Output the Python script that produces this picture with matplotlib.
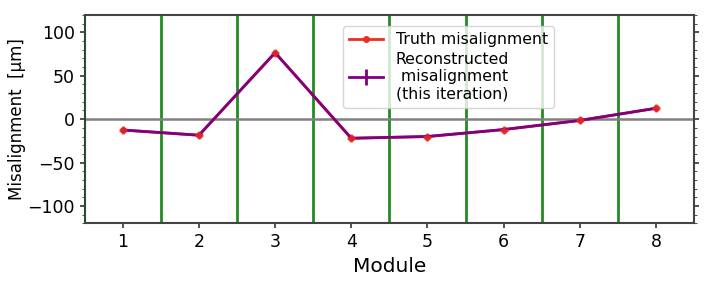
import numpy as np
import matplotlib.pyplot as plt
from matplotlib.ticker import MultipleLocator

modules = [1, 2, 3, 4, 5, 6, 7, 8]
truth = [-12.5, -18.5, 76.5, -22.0, -20.0, -12.0, -1.5, 12.5]
reco = [-12.5, -18.5, 76.5, -22.0, -20.0, -12.0, -1.5, 12.5]
reco_err = [2, 2, 2, 2, 2, 2, 2, 2]
boundaries = [1.5, 2.5, 3.5, 4.5, 5.5, 6.5, 7.5]

fig = plt.figure(figsize=(7.06, 2.81), dpi=100)
ax = fig.add_axes([0.12, 0.205, 0.863, 0.742])

for b in boundaries:
    ax.axvline(b, color='forestgreen', lw=2, zorder=1)
ax.axhline(0, color='gray', lw=1.8, zorder=1)

ax.plot(modules, truth, color='#ee2d22', marker='.', markersize=8, lw=2,
        label='Truth misalignment', zorder=2)
ax.errorbar(modules, reco, yerr=reco_err, color='purple', lw=2, elinewidth=2,
            label='Reconstructed\n misalignment\n(this iteration)', zorder=3)
ax.plot(modules, truth, ls='none', color='#ee2d22', marker='+', markersize=6,
        mew=2, alpha=0.8, zorder=4)

ax.set_xlim(0.5, 8.5)
ax.set_ylim(-120, 120)
ax.set_xticks(modules)
ax.yaxis.set_major_locator(MultipleLocator(50))
ax.yaxis.set_minor_locator(MultipleLocator(10))
ax.tick_params(axis='y', which='both', right=True)
ax.tick_params(axis='both', which='major', labelsize=12.5, color='#333333', width=1.2)
ax.tick_params(axis='y', which='minor', color='#333333', length=2.5)

for side in ['top', 'right', 'bottom']:
    ax.spines[side].set_color('#444444')
    ax.spines[side].set_linewidth(1.5)
ax.spines['left'].set_color('#2e4a2e')
ax.spines['left'].set_linewidth(1.5)

ax.set_xlabel('Module', fontsize=14.5)
ax.set_ylabel('Misalignment  [µm]', fontsize=12, labelpad=1)

ax.legend(loc='upper center', bbox_to_anchor=(0.597, 0.985), fontsize=11.3,
          handlelength=2.2, borderpad=0.4, labelspacing=0.3)

fig.savefig('out.png', dpi=100)
